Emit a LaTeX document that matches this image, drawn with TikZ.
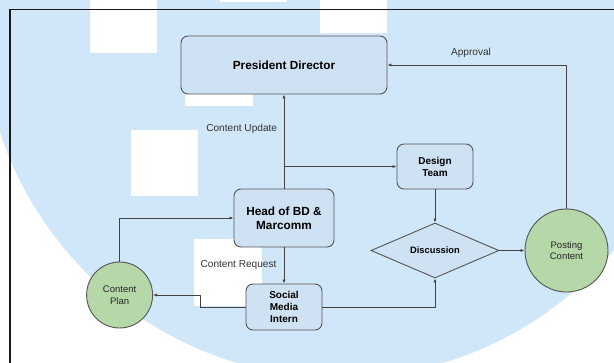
\documentclass[tikz,border=0pt]{standalone}
\usepackage{fontspec}
\setmainfont{Liberation Sans}
\usetikzlibrary{arrows.meta,shapes.geometric}
\definecolor{bgblue}{HTML}{CFE7F9}
\definecolor{boxblue}{HTML}{CFE2F3}
\definecolor{cgreen}{HTML}{B6D7A8}
\definecolor{edgegray}{HTML}{555555}
\definecolor{linegray}{HTML}{444444}
\definecolor{labelgray}{HTML}{333333}
\begin{document}
\begin{tikzpicture}[x=1pt,y=-1pt,
  box/.style={draw=edgegray,fill=boxblue,rounded corners=7pt,line width=0.9pt,align=center,inner sep=0pt},
  bigtxt/.style={font=\fontsize{11.8}{14}\selectfont\bfseries},
  smalltxt/.style={font=\fontsize{10}{12}\selectfont\bfseries},
  circ/.style={circle,draw=edgegray,fill=cgreen,line width=0.9pt,align=center,inner sep=0pt,font=\fontsize{9.5}{11.5}\selectfont,text=black!85},
  decision/.style={diamond,draw=edgegray,fill=boxblue,line width=0.9pt,inner sep=0pt,shape aspect=2.3,font=\fontsize{9.3}{11}\selectfont\bfseries},
  conn/.style={draw=linegray,line width=0.8pt,-{Latex[length=4pt,width=3.2pt]}},
  lbl/.style={font=\fontsize{10.1}{12}\selectfont,text=labelgray,inner sep=0pt},
  blank/.style={fill=white}]
\useasboundingbox (0,0) rectangle (614,362);
\begin{scope}
\clip (0,0) rectangle (614,362);
\fill[white] (0,0) rectangle (614,362);
\fill[bgblue] (340,20) circle (358pt);
\fill[blank] (90,0) rectangle (157,53);
\fill[blank] (220,0) rectangle (287,1.5);
\fill[blank] (320,0) rectangle (387,33);
\fill[blank] (185,60) rectangle (253,106);
\fill[blank] (131,130) rectangle (198,196);
\fill[blank] (194,239) rectangle (262,306);
\draw[line width=1.5pt,draw=black!90] (10,372) -- (10,9.5) -- (624,9.5);
\end{scope}

\node[box,bigtxt,minimum width=206pt,minimum height=58pt] (pd) at (284,65) {President Director};
\node[box,bigtxt,minimum width=100pt,minimum height=58pt] (head) at (284,218) {Head of BD \&\\Marcomm};
\node[box,smalltxt,minimum width=76pt,minimum height=45pt] (dt) at (435,166.5) {Design\\Team};
\node[box,smalltxt,minimum width=76pt,minimum height=46pt] (smi) at (284,307) {Social\\Media\\Intern};
\node[decision,minimum width=128pt,minimum height=55pt] (disc) at (435,250.5) {Discussion};
\node[circ,minimum size=83pt] (pc) at (566.5,250.5) {Posting\\Content};
\node[circ,minimum size=66pt] (cp) at (119.6,295) {Content\\Plan};

\coordinate (j) at (284,166.5);
\draw[conn] (head.north) -- (pd.south);
\draw[conn] (j) -- (dt.west);
\draw[conn] (dt.south) -- (disc.north);
\draw[conn] (disc.east) -- (pc.west);
\draw[conn] (pc.north) |- (pd.east);
\draw[conn] (head.south) -- (smi.north);
\draw[conn] (smi.west) -- (200,307) |- (cp.east);
\draw[conn] (cp.north) |- (head.west);
\draw[conn] (smi.east) -| (disc.south);

\node[lbl] (l1) at (241.7,129.3) {Content Update};
\node[lbl] (l2) at (238.5,265) {Content Request};
\node[lbl] (l3) at (471,53) {Approval};
\end{tikzpicture}
\end{document}
